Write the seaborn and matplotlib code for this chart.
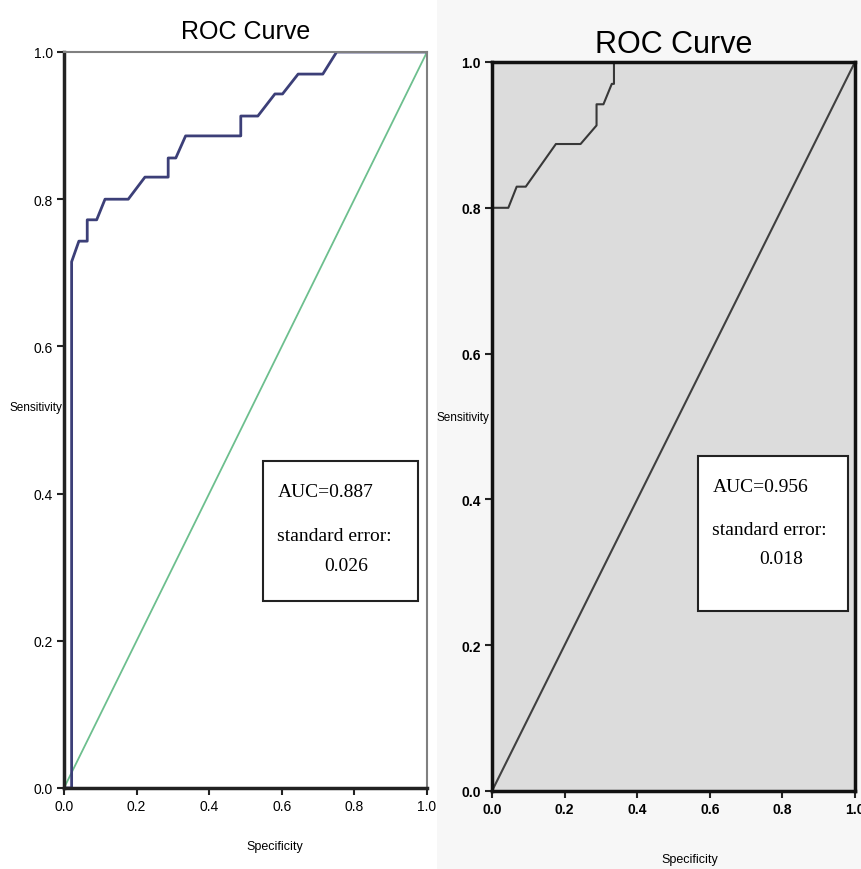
import pandas as pd
import matplotlib.pyplot as plt
import seaborn as sns
from matplotlib.patches import Rectangle

# left model ROC points (x = 1 - specificity, y = sensitivity)
left_fpr = [0.0, 0.021, 0.021, 0.041, 0.064, 0.064, 0.09, 0.113, 0.177, 0.223, 0.287, 0.287,
            0.308, 0.335, 0.487, 0.487, 0.534, 0.581, 0.602, 0.645, 0.713, 0.751, 1.0]
left_tpr = [0.0, 0.0, 0.715, 0.743, 0.743, 0.772, 0.772, 0.80, 0.80, 0.83, 0.83, 0.856,
            0.856, 0.886, 0.886, 0.913, 0.913, 0.943, 0.943, 0.970, 0.970, 1.0, 1.0]

# right model ROC points
right_fpr = [0.0, 0.0, 0.045, 0.068, 0.093, 0.176, 0.244, 0.288, 0.288, 0.307, 0.33, 0.336, 0.336, 1.0]
right_tpr = [0.0, 0.80, 0.80, 0.829, 0.829, 0.8875, 0.8875, 0.913, 0.942, 0.942, 0.97, 0.97, 1.0, 1.0]

auc_vals = [0.887, 0.956]
se_vals = [0.026, 0.018]
ticks = [0.0, 0.2, 0.4, 0.6, 0.8, 1.0]

sns.set_style("ticks")
plt.rcParams['font.family'] = ['Liberation Sans', 'DejaVu Sans']
plt.rcParams['text.color'] = 'black'
plt.rcParams['axes.labelcolor'] = 'black'
plt.rcParams['xtick.color'] = 'black'
plt.rcParams['ytick.color'] = 'black'

fig = plt.figure(figsize=(8.61, 8.70), dpi=100)
fig.patches.append(Rectangle((437 / 861, 0), 1 - 437 / 861, 1, transform=fig.transFigure,
                             facecolor='#f7f7f7', edgecolor='none', zorder=-1))

ax1 = fig.add_axes([64 / 861, 1 - 789 / 870, 363 / 861, 736 / 870])
ax2 = fig.add_axes([492 / 861, 1 - 792 / 870, 363 / 861, 729 / 870])

df_left = pd.DataFrame({'fpr': left_fpr, 'tpr': left_tpr})
df_right = pd.DataFrame({'fpr': right_fpr, 'tpr': right_tpr})

sns.lineplot(x=[0, 1], y=[0, 1], ax=ax1, color='#6dbf8e', linewidth=1.3)
sns.lineplot(data=df_left, x='fpr', y='tpr', ax=ax1, sort=False, estimator=None,
             color='#3c3f78', linewidth=2.0)

ax2.set_facecolor('#dcdcdc')
sns.lineplot(x=[0, 1], y=[0, 1], ax=ax2, color='#404040', linewidth=1.5)
sns.lineplot(data=df_right, x='fpr', y='tpr', ax=ax2, sort=False, estimator=None,
             color='#383838', linewidth=1.5)

for i, ax in enumerate([ax1, ax2]):
    ax.set_xlim(0, 1)
    ax.set_ylim(0, 1)
    ax.set_xticks(ticks)
    ax.set_yticks(ticks)
    ax.set_xticklabels([f'{t:.1f}' for t in ticks], fontweight='bold' if i else 'normal')
    ax.set_yticklabels([f'{t:.1f}' for t in ticks], fontweight='bold' if i else 'normal')
    ax.tick_params(direction='out', length=5, width=1.5, labelsize=10, color='#222222', pad=3)
    ax.set_xlabel('Specificity', fontsize=9)
    ax.set_ylabel('Sensitivity', fontsize=8.5, rotation=0, ha='center', va='center')

ax1.xaxis.set_label_coords(0.58, -0.07)
ax1.yaxis.set_label_coords(-0.078, 0.518)
ax2.xaxis.set_label_coords(0.545, -0.085)
ax2.yaxis.set_label_coords(-0.08, 0.513)

for s in ['left', 'bottom']:
    ax1.spines[s].set_linewidth(2.5)
    ax1.spines[s].set_color('#222222')
for s in ['top', 'right']:
    ax1.spines[s].set_linewidth(1.5)
    ax1.spines[s].set_color('#808080')
for s in ax2.spines.values():
    s.set_linewidth(2.5)
    s.set_color('#111111')

ax1.set_title('ROC Curve', fontsize=18, pad=10)
ax2.set_title('ROC Curve', fontsize=22, pad=7)

# AUC boxes
boxes = [(ax1, 0.548, 0.254, 0.427, 0.19), (ax2, 0.567, 0.247, 0.414, 0.213)]
for (ax, bx, by, bw, bh), auc, se in zip(boxes, auc_vals, se_vals):
    ax.add_patch(Rectangle((bx, by), bw, bh, transform=ax.transAxes, facecolor='white',
                           edgecolor='#222222', linewidth=1.5, zorder=5))
    ax.text(bx + 0.04, by + bh - 0.03, f'AUC={auc}', transform=ax.transAxes, fontsize=14,
            family='Liberation Serif', va='top', zorder=6)
    ax.text(bx + 0.04, by + bh - 0.09, 'standard error:', transform=ax.transAxes, fontsize=14,
            family='Liberation Serif', va='top', zorder=6)
    ax.text(bx + 0.17, by + bh - 0.13, f'{se}', transform=ax.transAxes, fontsize=14,
            family='Liberation Serif', va='top', zorder=6)

fig.savefig('out.png', dpi=100)
